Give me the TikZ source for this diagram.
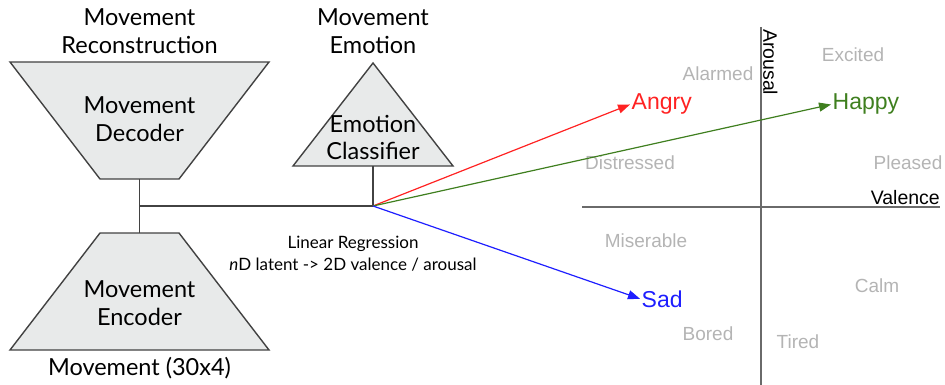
\documentclass[tikz,border=0pt]{standalone}
\usepackage{fontspec}
\setmainfont{Lato}
\newfontfamily\arialfont{Liberation Sans}
\usepackage{tikz}
\usetikzlibrary{arrows.meta, positioning}
\definecolor{LineGray}{HTML}{424242}
\definecolor{BlockFill}{HTML}{E8EAEA}
\definecolor{AxisGray}{HTML}{6A6A6A}
\definecolor{EmoGray}{HTML}{B4B4B4}
\definecolor{AngryRed}{HTML}{FF2222}
\definecolor{HappyGreen}{HTML}{3F7F1F}
\definecolor{SadBlue}{HTML}{1E1EFF}

\begin{document}
\begin{tikzpicture}[x=1pt, y=-1pt,
  block/.style={draw=LineGray, fill=BlockFill, line width=1.4pt, line join=miter},
  title/.style={align=center, font=\fontsize{23.5}{28}\selectfont, anchor=base},
  wire/.style={draw=LineGray, line width=1.4pt},
  emo/.style={font=\arialfont\fontsize{19}{22}\selectfont, text=EmoGray},
  hit/.style={font=\arialfont\fontsize{23}{26}\selectfont, anchor=base west, inner sep=1.5pt},
  map/.style={line width=1.2pt, -{Triangle[length=12pt,width=9pt]}},
  axis/.style={draw=AxisGray, line width=1.6pt},
  axlab/.style={font=\arialfont\fontsize{19.5}{22}\selectfont, inner sep=1pt}
]
\useasboundingbox (0,0) rectangle (945,385);

% blocks
\draw[block] (10,62) -- (269,62) -- (179,179) -- (100,179) -- cycle;
\draw[block] (100,233) -- (179,233) -- (269,350) -- (10,350) -- cycle;
\draw[block] (373,63) -- (453,166) -- (293,166) -- cycle;
\coordinate (dec) at (139.5,179);
\coordinate (enc) at (139.5,233);
\coordinate (cls) at (373,166);

\node[title] (dec-txt) at (139.5,142) {Movement\\Decoder};
\node[title] (enc-txt) at (139.5,325) {Movement\\Encoder};
\node[title] (cls-txt) at (373,160) {Emotion\\Classifier};
\node[title] (recon) at (139.5,54) {Movement\\Reconstruction};
\node[title] (emotion) at (373,54) {Movement\\Emotion};
\node[title] (input) at (139.5,375) {Movement (30x4)};

% latent
\coordinate (lat) at (139.5,206);
\coordinate (jn) at (373,206);
\draw[wire] (dec) -- (enc);
\draw[wire] (lat) -- (jn);
\draw[wire] (cls) -- (jn);

\node[anchor=base, font=\fontsize{17}{20}\selectfont] (linreg) at (353,248) {Linear Regression};
\node[anchor=base, font=\fontsize{17}{20}\selectfont] (linreg-sub) at (353,270)
  {\textit{n}D latent -> 2D valence / arousal};

% valence / arousal plane
\coordinate (ar-top) at (761,27);
\coordinate (ar-bot) at (761,385);
\coordinate (va-left) at (582,207);
\coordinate (va-right) at (940,207);
\draw[axis] (ar-top) -- (ar-bot);
\draw[axis] (va-left) -- (va-right);
\node[axlab, rotate=-90, anchor=south west] (arousal) at (762,28) {Arousal};
\node[axlab, anchor=south east] (valence) at (941,206) {Valence};

\node[emo] (excited) at (853,55) {Excited};
\node[emo] (alarmed) at (718,74) {Alarmed};
\node[emo] (distressed) at (630,163) {Distressed};
\node[emo] (pleased) at (908,163) {Pleased};
\node[emo] (miserable) at (646,241) {Miserable};
\node[emo] (calm) at (877,286) {Calm};
\node[emo] (bored) at (708,334) {Bored};
\node[emo] (tired) at (798,342) {Tired};

% mapped emotions
\node[hit, text=AngryRed] (angry) at (630,110) {Angry};
\node[hit, text=HappyGreen] (happy) at (831,110) {Happy};
\node[hit, text=SadBlue] (sad) at (640,307) {Sad};
\draw[map, AngryRed] (jn) -- (angry.west);
\draw[map, HappyGreen] (jn) -- (happy.west);
\draw[map, SadBlue] (jn) -- (sad.west);
\end{tikzpicture}
\end{document}
